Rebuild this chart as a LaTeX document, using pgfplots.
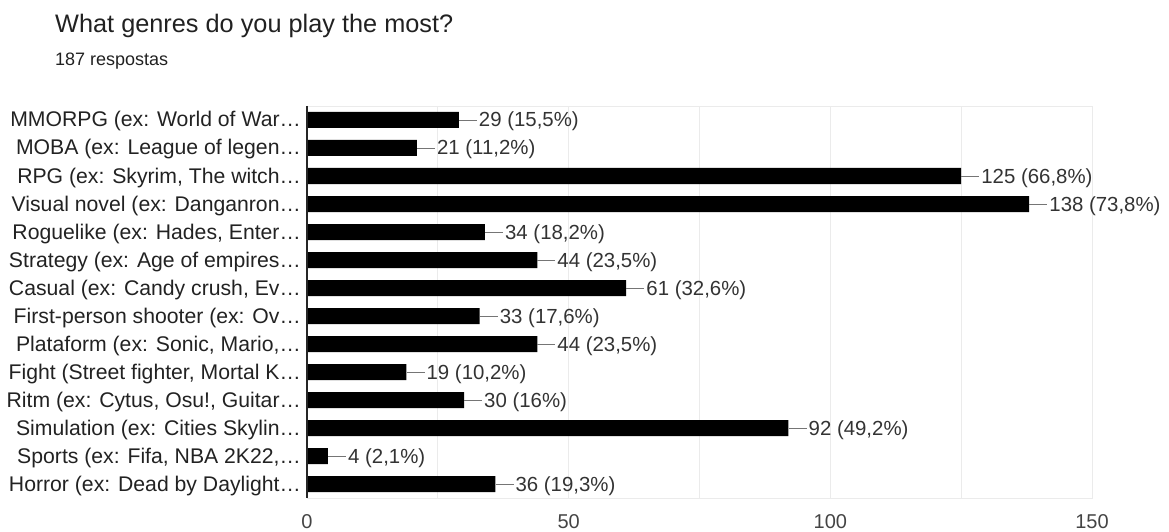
\documentclass[border=0pt]{standalone}
\usepackage{pgfplots}
\pgfplotsset{compat=1.18}
\usepackage{pgfplotstable}
\usepackage{fontspec}
\setmainfont{Liberation Sans}

\definecolor{titlegray}{HTML}{212121}
\definecolor{labelgray}{HTML}{222222}
\definecolor{valgray}{HTML}{333333}
\definecolor{tickgray}{HTML}{444444}
\definecolor{gridgray}{HTML}{EBEBEB}
\definecolor{leadgray}{HTML}{757575}

% answers per genre (count) and share of the 187 respondents (pct)
\pgfplotstableread{
idx count pct
0   29  15.5
1   21  11.2
2   125 66.8
3   138 73.8
4   34  18.2
5   44  23.5
6   61  32.6
7   33  17.6
8   44  23.5
9   19  10.2
10  30  16
11  92  49.2
12  4   2.1
13  36  19.3
}\genres

\begin{document}
\begin{tikzpicture}[x=1pt,y=1pt]
\useasboundingbox (0,0) rectangle (1169,532);
\node[anchor=base west, inner sep=0pt, text=titlegray,
      font=\fontsize{25.3}{30}\selectfont] at (55,499) {What genres do you play the most?};
\node[anchor=base west, inner sep=0pt, text=titlegray,
      font=\fontsize{18}{22}\selectfont] at (55,466) {187 respostas};
\begin{axis}[
  at={(307pt,34pt)}, anchor=south west,
  scale only axis, width=785pt, height=392pt,
  xmin=0, xmax=150, ymin=-0.5, ymax=13.5, y dir=reverse,
  xbar, bar width=16pt, bar shift=0pt,
  xtick={0,50,100,150}, minor xtick={25,75,125},
  xmajorgrids, xminorgrids,
  major grid style={gridgray, line width=0.8pt},
  minor grid style={gridgray, line width=0.8pt},
  ytick={0,...,13},
  yticklabels={
    {MMORPG (ex: World of War…},
    {MOBA (ex: League of legen…},
    {RPG (ex: Skyrim, The witch…},
    {Visual novel (ex: Danganron…},
    {Roguelike (ex: Hades, Enter…},
    {Strategy (ex: Age of empires…},
    {Casual (ex: Candy crush, Ev…},
    {First-person shooter (ex: Ov…},
    {Plataform (ex: Sonic, Mario,…},
    {Fight (Street fighter, Mortal K…},
    {Ritm (ex: Cytus, Osu!, Guitar…},
    {Simulation (ex: Cities Skylin…},
    {Sports (ex: Fifa, NBA 2K22,…},
    {Horror (ex: Dead by Daylight…}},
  major tick length=0pt, minor tick length=0pt,
  axis line style={gridgray, line width=0.8pt},
  /pgf/number format/assume math mode=true,
  yticklabel style={anchor=base east, inner sep=0pt, xshift=-6pt, yshift=-7pt,
                    text=labelgray, font=\fontsize{21.2}{25}\selectfont},
  xticklabel style={anchor=base, inner sep=0pt, yshift=-30pt,
                    text=tickgray, font=\fontsize{20}{24}\selectfont},
  point meta=explicit,
  visualization depends on=rawx\as\rawx,
  nodes near coords={\textcolor{leadgray}{\rule[6.6pt]{18pt}{0.8pt}}\hspace{2pt}\pgfmathprintnumber{\rawx} (\pgfmathprintnumber[use comma]{\pgfplotspointmeta}\%)},
  nodes near coords align={anchor=base west},
  every node near coord/.append style={anchor=base west, inner sep=0pt, yshift=-7pt,
                    text=valgray, font=\fontsize{20.4}{24}\selectfont},
  clip=false,
]
\addplot[fill=black, draw=none] table[x=count, y=idx, meta=pct] {\genres};
\draw[black!85, line width=1.2pt] (axis cs:0,-0.5) -- (axis cs:0,13.5);
\end{axis}
\end{tikzpicture}
\end{document}
